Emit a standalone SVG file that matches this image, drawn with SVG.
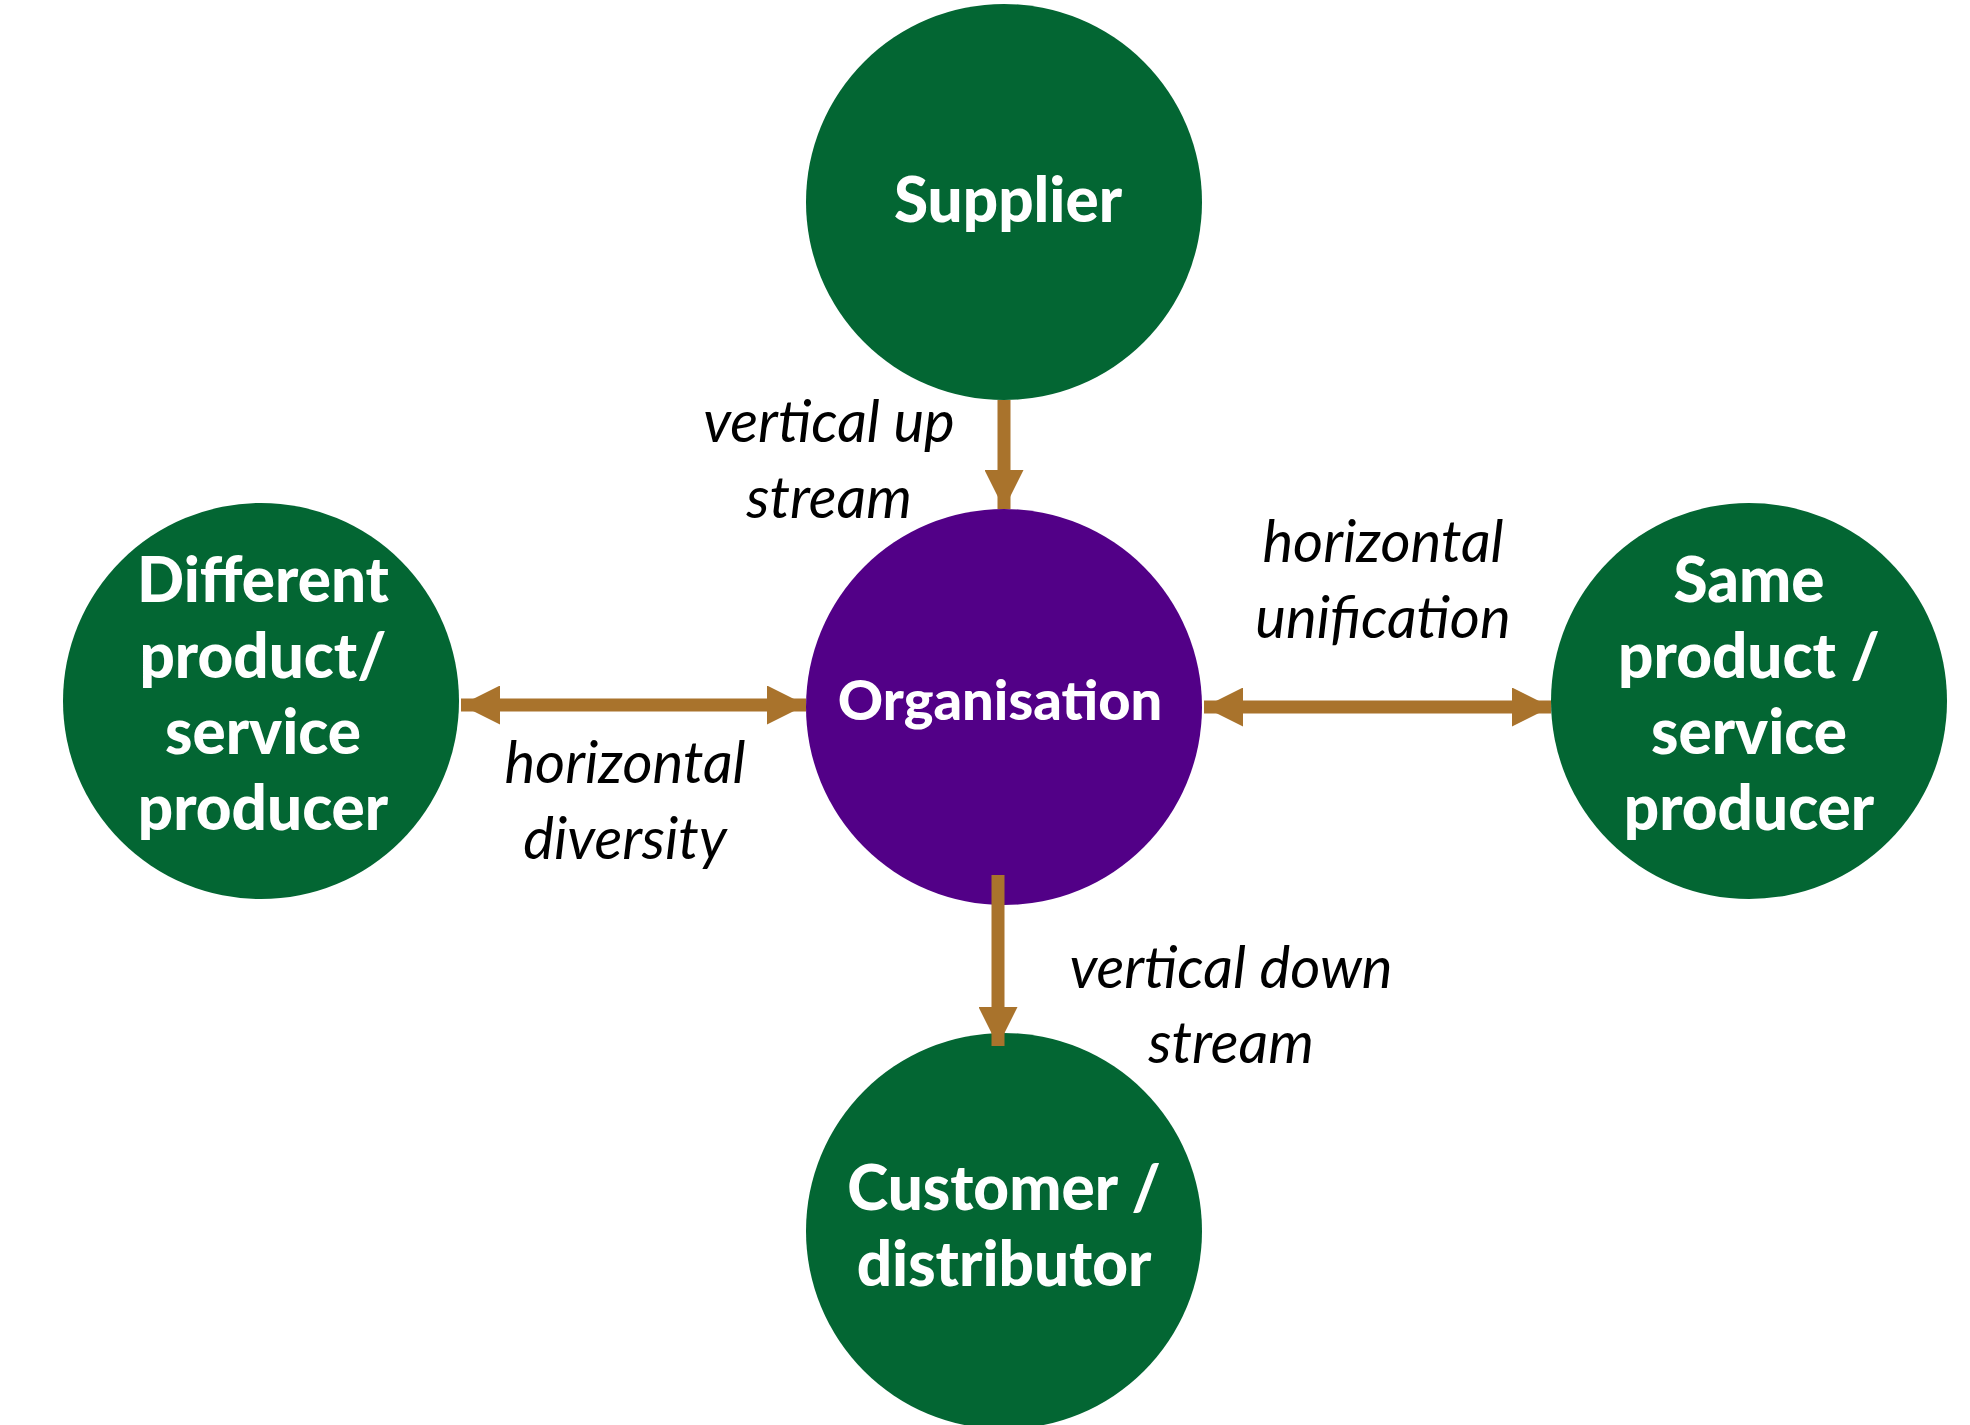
<svg xmlns="http://www.w3.org/2000/svg" width="1970" height="1425" viewBox="0 0 1970 1425">
<style>
.g{fill:#036633}.p{fill:#520087}
.t{font-family:Lato,"Noto Sans",sans-serif;font-weight:900;fill:#fff;text-anchor:middle;font-size:62px}
.l{font-family:Lato,"Noto Sans",sans-serif;font-style:italic;fill:#000;text-anchor:middle;font-size:58px}
.c{stroke:#A9732C;stroke-width:13;fill:none}
</style>
<defs>
<marker id="a" viewBox="0 0 10 10" refX="10" refY="5" markerWidth="3" markerHeight="3" orient="auto-start-reverse" markerUnits="strokeWidth"><path d="M0,0L10,5L0,10z" fill="#A9732C"/></marker>
</defs>
<rect width="1970" height="1425" fill="#fff"/>
<g id="supplier"><circle class="g" cx="1004" cy="202" r="198"/><text class="t" x="1008" y="222">Supplier</text></g>
<g id="organisation"><circle class="p" cx="1004" cy="707" r="198"/><text class="t" x="1000" y="720" style="font-size:56px">Organisation</text></g>
<g id="different"><circle class="g" cx="261" cy="701" r="198"/>
<text class="t" x="263" y="602">Different</text><text class="t" x="263" y="678">product/</text><text class="t" x="263" y="754">service</text><text class="t" x="263" y="830">producer</text></g>
<g id="same"><circle class="g" cx="1749" cy="701" r="198"/>
<text class="t" x="1749" y="602">Same</text><text class="t" x="1749" y="678">product /</text><text class="t" x="1749" y="754">service</text><text class="t" x="1749" y="830">producer</text></g>
<g id="customer"><circle class="g" cx="1004" cy="1231" r="198"/>
<text class="t" x="1004" y="1210">Customer /</text><text class="t" x="1004" y="1286">distributor</text></g>
<g id="connectors">
<line class="c" x1="1004" y1="400" x2="1004" y2="509" marker-end="url(#a)"/>
<line class="c" x1="461" y1="705" x2="806" y2="705" marker-start="url(#a)" marker-end="url(#a)"/>
<line class="c" x1="1204" y1="707" x2="1551" y2="707" marker-start="url(#a)" marker-end="url(#a)"/>
<line class="c" x1="998" y1="875" x2="998" y2="1046" marker-end="url(#a)"/>
</g>
<g id="labels">
<text class="l" x="829" y="442">vertical up</text><text class="l" x="829" y="518">stream</text>
<text class="l" x="1383" y="562">horizontal</text><text class="l" x="1383" y="638">unification</text>
<text class="l" x="625" y="783">horizontal</text><text class="l" x="625" y="859">diversity</text>
<text class="l" x="1231" y="988">vertical down</text><text class="l" x="1231" y="1063">stream</text>
</g>
</svg>
